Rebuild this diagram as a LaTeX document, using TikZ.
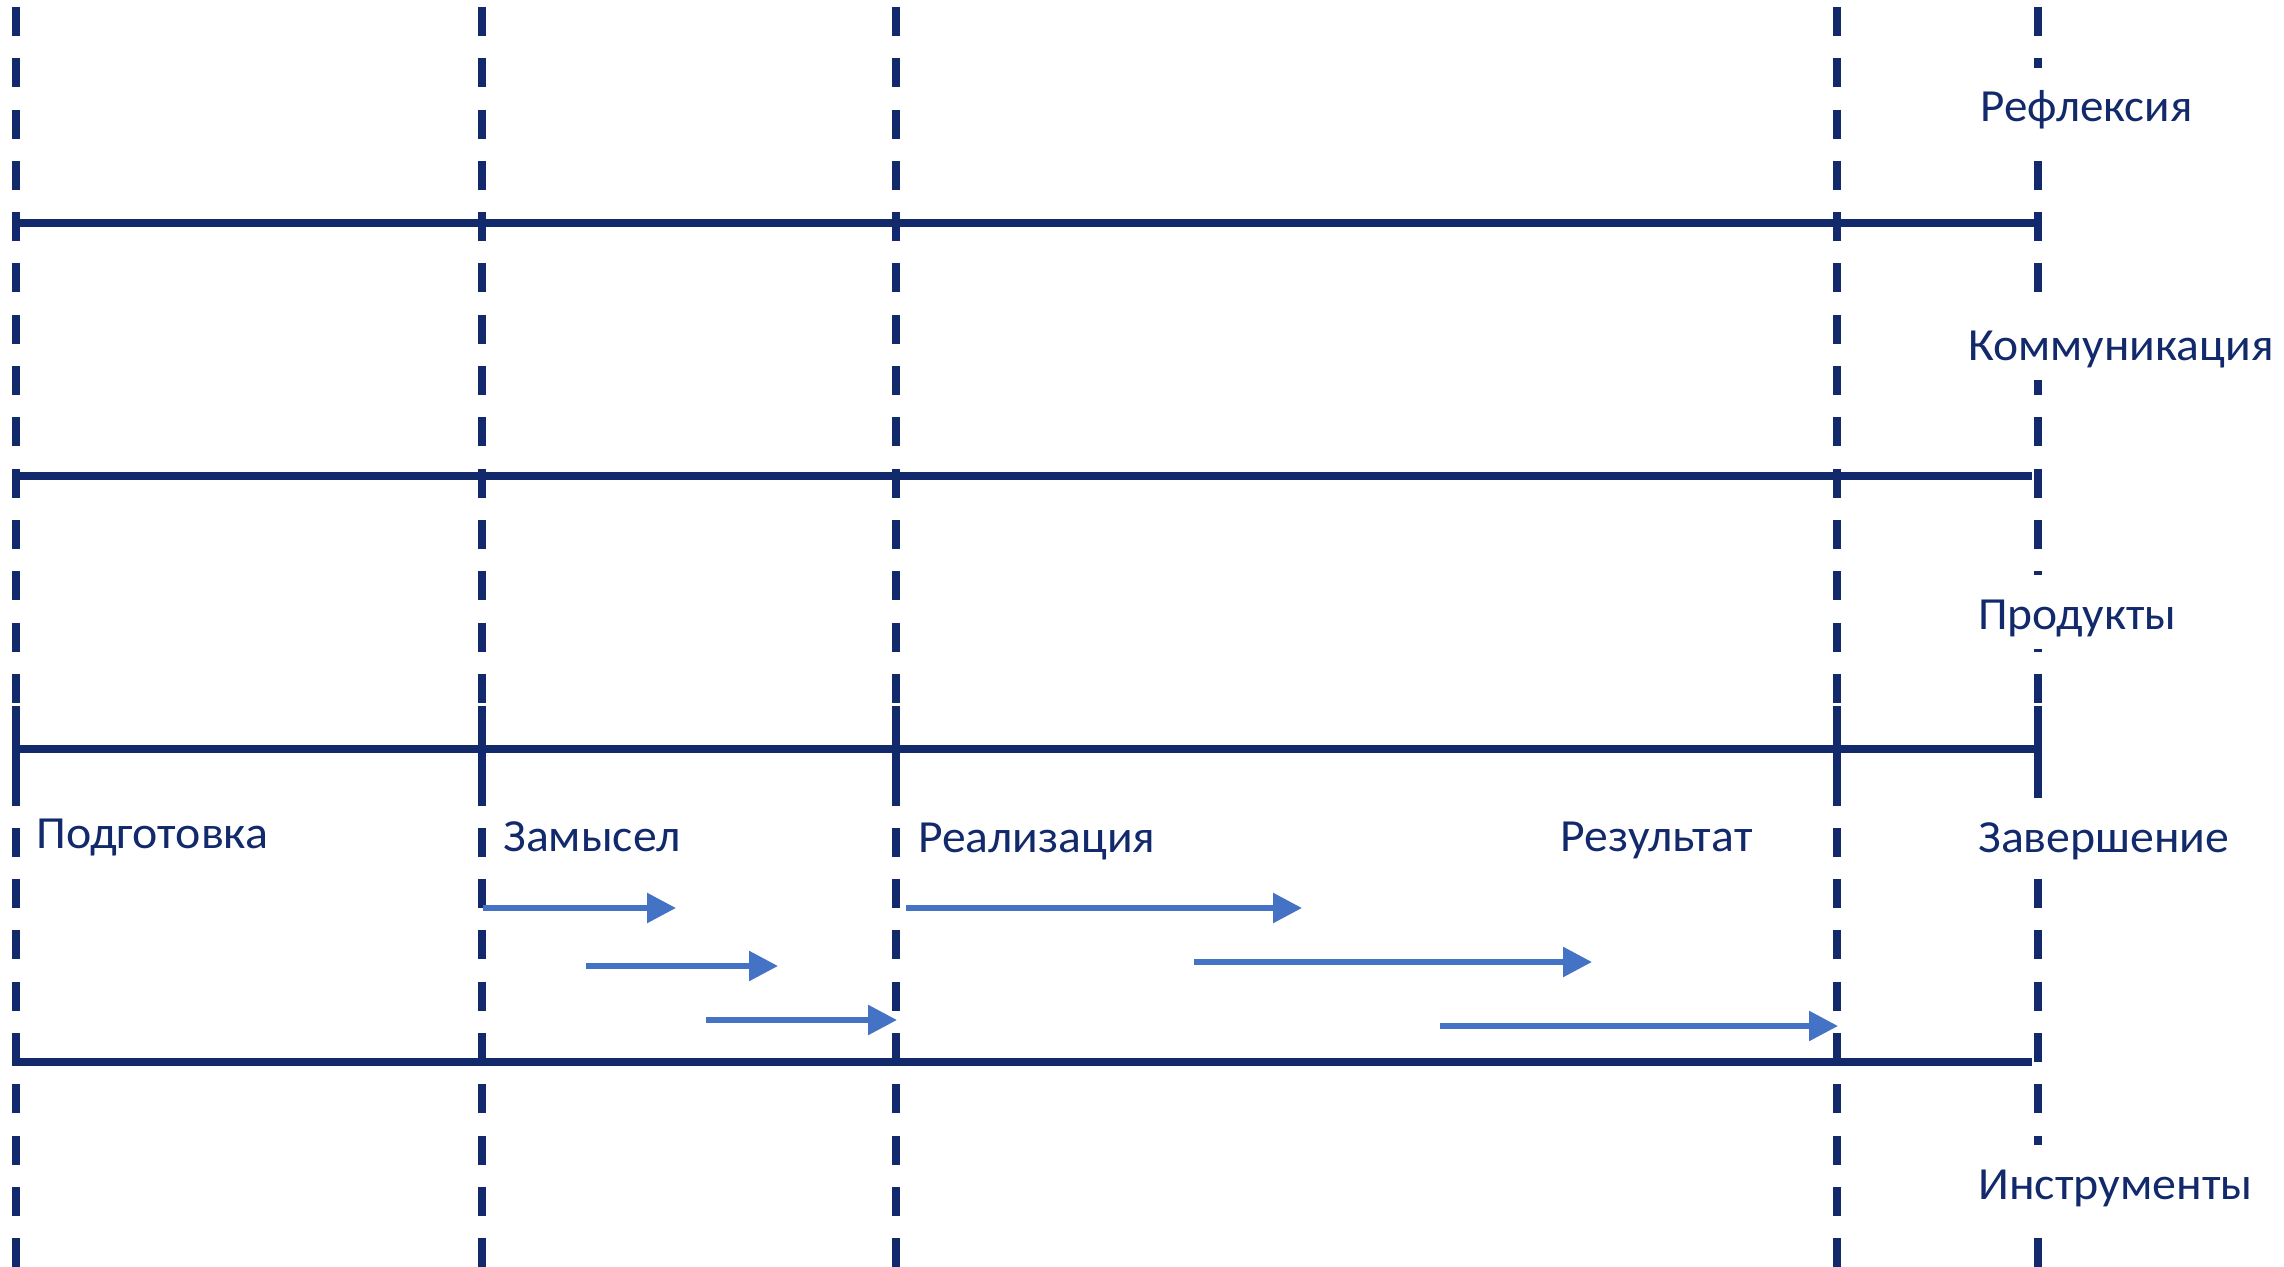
\documentclass[tikz,border=0pt]{standalone}
\usepackage{fontspec}
\setmainfont{Carlito}
\usetikzlibrary{arrows.meta}
\definecolor{navy}{HTML}{12296B}
\definecolor{arrowblue}{HTML}{4472C4}
\begin{document}
\begin{tikzpicture}[x=0.5pt,y=-0.5pt,
  grid/.style={draw=navy,line width=3.6pt,dash pattern=on 14.5pt off 11.15pt},
  band/.style={draw=navy,line width=3.8pt},
  tickmark/.style={draw=navy,line width=3.6pt},
  flow/.style={draw=arrowblue,line width=2.85pt,-{Triangle[length=14.5pt,width=14.5pt]}},
  stage/.style={text=navy,font=\fontsize{23}{27}\selectfont,inner sep=0pt,anchor=base west},
  area/.style={stage,fill=white,text height=27pt,text depth=10pt}]
\useasboundingbox (0,0) rectangle (2284,1267);
% vertical dashed lines
\foreach \n/\x in {1/16,2/482,3/896,4/1837,5/2038}{
  \coordinate (t\n) at (\x,7);
  \coordinate (b\n) at (\x,1267);
  \coordinate (ka\n) at (\x,706);
  \coordinate (kb\n) at (\x,792);
}
\foreach \n in {1,...,5}{
  \draw[grid] (t\n) -- (b\n);
  \draw[tickmark] (ka\n) -- (kb\n);
}
% horizontal lines
\coordinate (h1a) at (16,223);   \coordinate (h1b) at (2038,223);
\coordinate (h2a) at (12,476);   \coordinate (h2b) at (2032,476);
\coordinate (h3a) at (16,749);   \coordinate (h3b) at (2038,749);
\coordinate (h4a) at (12,1062);  \coordinate (h4b) at (2032,1062);
\draw[band] (h1a) -- (h1b);
\draw[band] (h2a) -- (h2b);
\draw[band] (h3a) -- (h3b);
\draw[band] (h4a) -- (h4b);
% arrows
\coordinate (a1s) at (483,908);  \coordinate (a1e) at (676,908);
\coordinate (a2s) at (586,966);  \coordinate (a2e) at (778,966);
\coordinate (a3s) at (706,1020); \coordinate (a3e) at (897,1020);
\coordinate (a4s) at (906,908);  \coordinate (a4e) at (1302,908);
\coordinate (a5s) at (1194,962); \coordinate (a5e) at (1592,962);
\coordinate (a6s) at (1440,1026);\coordinate (a6e) at (1838,1026);
\foreach \n in {1,...,6}{
  \draw[flow] (a\n s) -- (a\n e);
}
% stage labels
\node[stage] (podg) at (36,848)  {\resizebox{116pt}{\height}{Подготовка}};
\node[stage] (zam)  at (503,851) {\resizebox{88.5pt}{\height}{Замысел}};
\node[stage] (real) at (918,852) {\resizebox{118.5pt}{\height}{Реализация}};
\node[stage] (res)  at (1560,851){\resizebox{96pt}{\height}{Результат}};
% area labels
\node[area] (refl) at (1980,122)  {\resizebox{106pt}{\height}{Рефлексия}};
\node[area] (komm) at (1968,360)  {\resizebox{152.5pt}{\height}{Коммуникация}};
\node[area] (prod) at (1978,629)  {\resizebox{99pt}{\height}{Продукты}};
\node[area] (zav)  at (1978,852)  {\resizebox{125.5pt}{\height}{Завершение}};
\node[area] (inst) at (1978,1199) {\resizebox{137pt}{\height}{Инструменты}};
\end{tikzpicture}
\end{document}
